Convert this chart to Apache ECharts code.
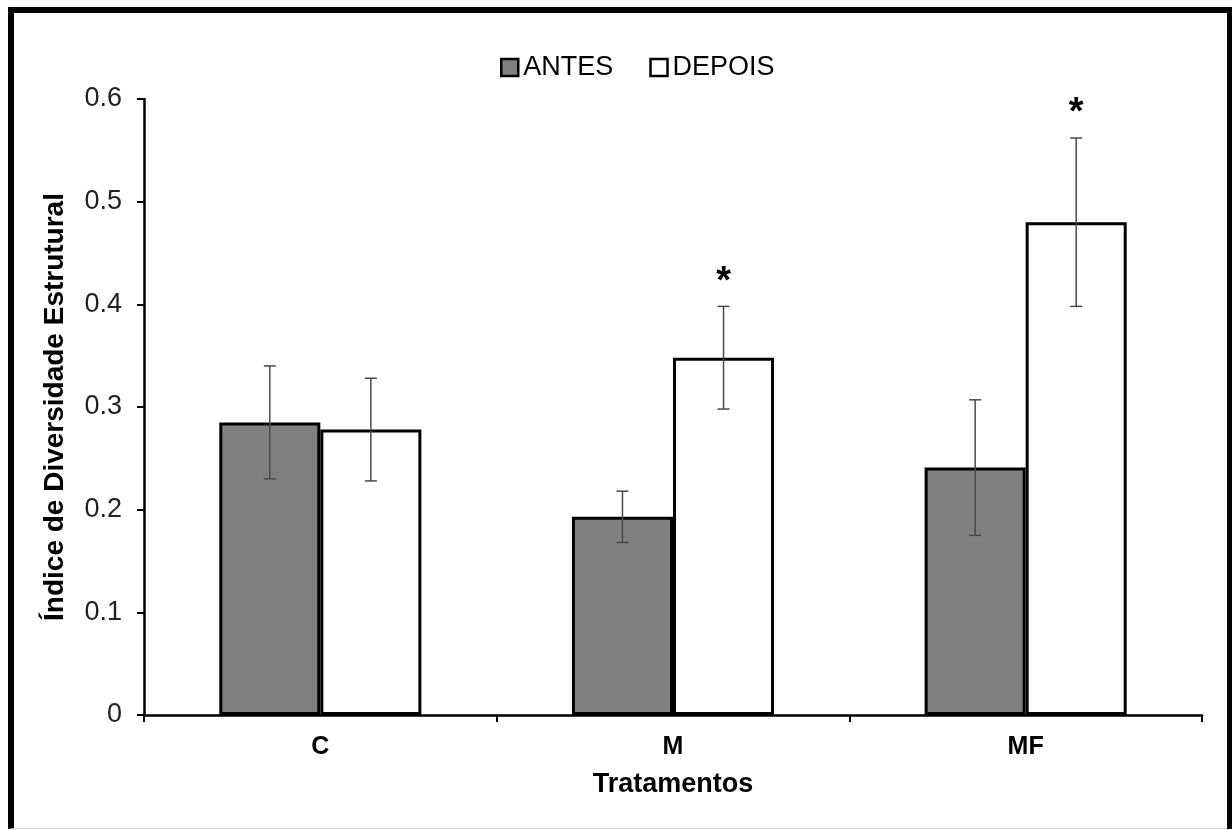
<!DOCTYPE html>
<html>
<head>
<meta charset="utf-8">
<title>Índice de Diversidade Estrutural</title>
<script src="https://cdn.jsdelivr.net/npm/echarts@6/dist/echarts.min.js"></script>
<style>
  html, body { margin: 0; padding: 0; background: #fff; overflow: hidden; }
  #frame {
    position: absolute; left: 8px; top: 7px; width: 1232px; height: 822px;
    border-top: 6px solid #000; border-left: 6px solid #000; border-bottom: 1px solid #d8d8d8;
    box-sizing: border-box;
  }
  #frameRight { position: absolute; left: 1227px; top: 7px; width: 5px; height: 822px; background: #000; }
  #chart { position: absolute; left: 0; top: 0; width: 1232px; height: 830px; }
</style>
</head>
<body>
<div id="frame"></div>
<div id="frameRight"></div>
<div id="chart"></div>
<script>
// Treatments and the structural diversity index before / after
const categories = ['C', 'M', 'MF'];
const antes = [0.285, 0.193, 0.241];
const depois = [0.278, 0.348, 0.480];
// Standard errors (symmetric whiskers)
const antesErr = [0.055, 0.025, 0.066];
const depoisErr = [0.050, 0.050, 0.082];
// Significance marks above the DEPOIS bars
const depoisSig = ['', '*', '*'];
const yTicks = [0, 0.1, 0.2, 0.3, 0.4, 0.5, 0.6];

const GAP = 0.427; // barCategoryGap as a fraction of the band
const font = '"Liberation Sans", Arial, sans-serif';

function errorSeries(values, errs, sig, side) {
  return {
    type: 'custom',
    name: side < 0 ? 'errA' : 'errD',
    silent: true,
    z: 5,
    data: values.map((v, i) => [i, v, errs[i]]),
    renderItem: function (params, api) {
      const idx = api.value(0);
      const val = api.value(1);
      const err = api.value(2);
      const mark = sig[idx];
      const band = api.size([1, 0])[0];
      const bw = band * (1 - GAP) / 2;
      const center = api.coord([idx, val]);
      const x = center[0] + side * bw / 2;
      const yHi = api.coord([idx, val + err])[1];
      const yLo = api.coord([idx, val - err])[1];
      const cap = 6;
      const st = { stroke: '#4a4a4a', lineWidth: 1.5 };
      const children = [
        { type: 'line', shape: { x1: x, y1: yHi, x2: x, y2: yLo }, style: st },
        { type: 'line', shape: { x1: x - cap, y1: yHi, x2: x + cap, y2: yHi }, style: st },
        { type: 'line', shape: { x1: x - cap, y1: yLo, x2: x + cap, y2: yLo }, style: st }
      ];
      if (mark) {
        children.push({
          type: 'text',
          style: {
            text: mark, x: x, y: yHi - 5,
            align: 'center', verticalAlign: 'bottom',
            font: 'bold 38px ' + font, fill: '#000'
          }
        });
      }
      return { type: 'group', children: children };
    }
  };
}

const chart = echarts.init(document.getElementById('chart'), null, { renderer: 'canvas' });
chart.setOption({
  animation: false,
  backgroundColor: 'transparent',
  legend: {
    data: ['ANTES', 'DEPOIS'],
    left: 495, top: 49,
    icon: 'rect', itemWidth: 17, itemHeight: 17, itemGap: 36,
    textStyle: { fontFamily: font, fontSize: 27, color: '#000' },
    itemStyle: { borderColor: '#000', borderWidth: 2.5 }
  },
  grid: { left: 144, right: 30, top: 99, bottom: 115 },
  xAxis: {
    type: 'category',
    data: categories,
    name: 'Tratamentos',
    nameLocation: 'middle',
    nameGap: 56,
    nameTextStyle: { fontFamily: font, fontSize: 27, fontWeight: 'bold', color: '#000' },
    axisLine: { lineStyle: { color: '#000', width: 2.5 } },
    axisTick: { show: true, length: 7, lineStyle: { color: '#000', width: 2 } },
    axisLabel: { fontFamily: font, fontSize: 25, fontWeight: 'bold', color: '#000', margin: 20 }
  },
  yAxis: {
    type: 'value',
    min: 0, max: 0.6, interval: 0.1,
    name: 'Índice de Diversidade Estrutural',
    nameLocation: 'middle',
    nameGap: 75,
    nameTextStyle: { fontFamily: font, fontSize: 28, fontWeight: 'bold', color: '#000' },
    axisLine: { show: true, lineStyle: { color: '#000', width: 2.5 } },
    axisTick: { show: true, length: 7, lineStyle: { color: '#000', width: 2 } },
    splitLine: { show: false },
    axisLabel: {
      fontFamily: font, fontSize: 27, color: '#222', margin: 22,
      formatter: function (v) {
        const t = yTicks.find(k => Math.abs(k - v) < 1e-9);
        return t === 0 ? '0' : String(t);
      }
    }
  },
  series: [
    {
      name: 'ANTES', type: 'bar', data: antes,
      barGap: '0%', barCategoryGap: (GAP * 100) + '%',
      itemStyle: { color: '#808080', borderColor: '#000', borderWidth: 3 }
    },
    {
      name: 'DEPOIS', type: 'bar', data: depois,
      barGap: '0%', barCategoryGap: (GAP * 100) + '%',
      itemStyle: { color: '#ffffff', borderColor: '#000', borderWidth: 3 }
    },
    errorSeries(antes, antesErr, ['', '', ''], -1),
    errorSeries(depois, depoisErr, depoisSig, 1)
  ]
});
</script>
</body>
</html>
